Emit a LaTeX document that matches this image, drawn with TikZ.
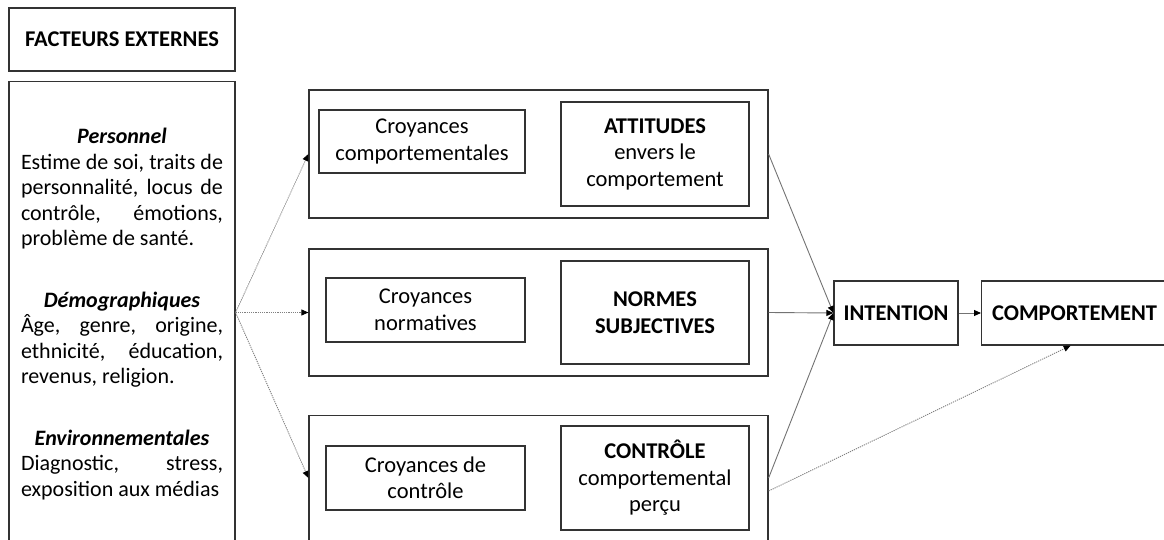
\documentclass[tikz,border=0pt]{standalone}
\usepackage{fontspec}
\setmainfont{Carlito}
\usetikzlibrary{arrows.meta,positioning,calc}

\begin{document}
\begin{tikzpicture}[x=1pt,y=-1pt]
			\tikzstyle{boite} = [draw=black!80, line width=1.2pt, inner sep=0pt, align=center, font=\fontsize{22.5}{26.5}\selectfont]
			\tikzstyle{groupe} = [draw=black!80, line width=1.2pt, minimum width=459pt, inner sep=0pt]
			\tikzstyle{myarrow} = [-{Triangle[length=7pt,width=6pt,color=black]}, draw=black!55, line width=0.9pt]
			\tikzstyle{mydotarrow} = [myarrow, draw=black!50, dash pattern=on 1.2pt off 1pt]
			
			\useasboundingbox (0,0) rectangle (1164,540);
			
			% facteurs externes
			\node [boite, minimum width=226pt, minimum height=63pt] (facteurs) at (122,39.5) {\textbf{FACTEURS EXTERNES}};
			\node [boite, minimum width=226pt, minimum height=520pt, anchor=north] (externes) at (122,81) {};
			\node [text width=202pt, align=justify, anchor=north, inner sep=0pt, font=\fontsize{22}{25.5}\selectfont] (listeext) at (122,128) {%
				{\centering\textbf{\textit{Personnel}}\par}
				Estime de soi, traits de\linebreak personnalité, locus de\linebreak contrôle, émotions,\linebreak problème de santé.\par
				\vspace{36pt}
				{\centering\textbf{\textit{Démographiques}}\par}
				Âge, genre, origine,\linebreak ethnicité, éducation,\linebreak revenus, religion.\par
				\vspace{36pt}
				{\centering\textbf{\textit{Environnementales}}\par}
				Diagnostic, stress,\linebreak exposition aux médias\par};
			
			% les trois groupes
			\node [groupe, minimum height=128pt] (gatt) at (538.5,154) {};
			\node [groupe, minimum height=127pt] (gnorm) at (538.5,312.5) {};
			\node [groupe, minimum height=185pt, anchor=north] (gctrl) at (538.5,415) {};
			
			\node [boite, minimum width=206pt, minimum height=63pt] (cbeh) at (422,141.5) {Croyances\\comportementales};
			\node [boite, minimum width=199pt, minimum height=64pt] (cnorm) at (425.5,310) {Croyances\\normatives};
			\node [boite, minimum width=199pt, minimum height=64pt] (cctrl) at (425.5,478) {Croyances de\\contrôle};
			
			\node [boite, minimum width=188pt, minimum height=104pt] (attitudes) at (655,154) {\textbf{ATTITUDES}\\envers le\\comportement};
			\node [boite, minimum width=188pt, minimum height=103pt] (normes) at (655,312.5) {\textbf{NORMES}\\\textbf{SUBJECTIVES}};
			\node [boite, minimum width=188pt, minimum height=104pt] (controle) at (655,478) {\textbf{CONTRÔLE}\\comportemental\\perçu};
			
			\node [boite, minimum width=124pt, minimum height=64pt] (intention) at (896,313) {\textbf{INTENTION}};
			\node [boite, minimum width=186pt, minimum height=64pt, anchor=west] (comportement) at (981,313) {\textbf{COMPORTEMENT}};
			
			\coordinate (sortie) at (externes.east |- gnorm.west);
			
			\draw [mydotarrow] (sortie) -- (gatt.west);
			\draw [mydotarrow] (sortie) -- (gnorm.west);
			\draw [mydotarrow] (sortie) -- (gctrl.west |- cctrl);
			
			\draw [myarrow] (gatt.east) -- (intention.west);
			\draw [myarrow] (gnorm.east) -- (intention.west);
			\draw [myarrow] (gctrl.east |- controle) -- (intention.west);
			\draw [myarrow] (intention) -- (comportement);
			\draw [mydotarrow] ($(gctrl.east |- controle)+(0,13)$) -- ([xshift=-4pt]comportement.south);
			
\end{tikzpicture}
\end{document}
